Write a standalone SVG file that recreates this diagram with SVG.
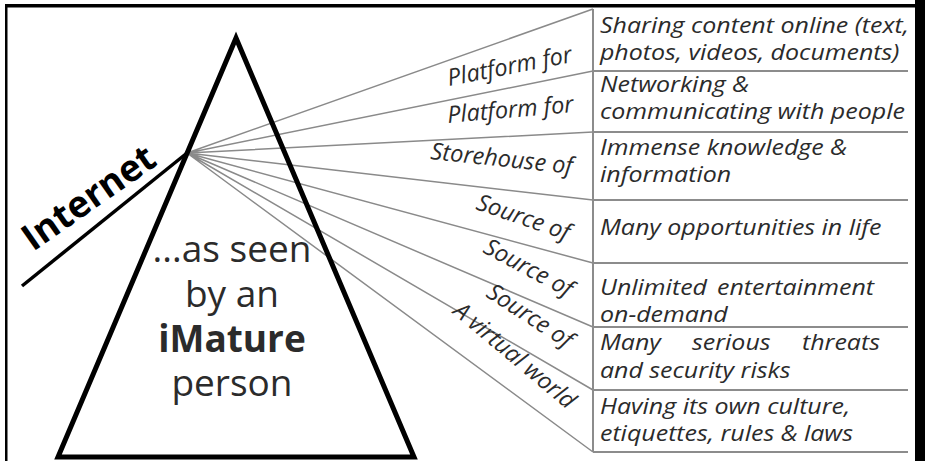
<svg xmlns="http://www.w3.org/2000/svg" width="925" height="461" viewBox="0 0 925 461">
<style>
.frame{fill:#000}
.fan{stroke:#8a8a8a;stroke-width:1.5;fill:none}
.box{stroke:#8c8c8c;stroke-width:2;fill:none}
.lbl{font-family:"Open Sans","DejaVu Sans",sans-serif;font-style:italic;font-size:23.5px;fill:#2b2b2b}
.txt{font-family:"Open Sans","DejaVu Sans",sans-serif;font-style:italic;font-size:22px;fill:#2b2b2b}
.main{font-family:"Open Sans","DejaVu Sans",sans-serif;font-size:37px;fill:#2b2b2b;text-anchor:middle}
</style>
<rect width="925" height="461" fill="#fff"/>
<g id="frame">
<rect class="frame" x="5" y="4" width="920" height="3.5"/>
<rect class="frame" x="5" y="4" width="2.5" height="457"/>
<rect class="frame" x="915" y="0" width="10" height="461"/>
</g>
<g id="connectors">
<path class="fan" d="M187,153 L593,9 M187,153 L593,71 M187,153 L593,132 M187,153 L593,200 M187,153 L593,263 M187,153 L593,327 M187,153 L593,390 M187,153 L593,452"/>
</g>
<g id="triangle">
<path d="M236,38 L58,457 L414,457 Z" fill="none" stroke="#000" stroke-width="5" stroke-linejoin="miter"/>
<text class="main" x="232" y="262">...as seen</text>
<text class="main" x="232" y="307">by an</text>
<text class="main" x="232" y="352" font-weight="bold">iMature</text>
<text class="main" x="232" y="396">person</text>
</g>
<g id="internet">
<line x1="187" y1="153" x2="22" y2="286" stroke="#000" stroke-width="3.5"/>
<text x="0" y="0" transform="translate(33,252) rotate(-35)" font-family="'Open Sans','DejaVu Sans',sans-serif" font-weight="bold" font-size="37" fill="#000">Internet</text>
</g>
<g id="labels">
<text class="lbl" transform="translate(449,86) rotate(-11)">Platform for</text>
<text class="lbl" transform="translate(448,123) rotate(-5)">Platform for</text>
<text class="lbl" transform="translate(430,159) rotate(6)">Storehouse of</text>
<text class="lbl" transform="translate(475,209) rotate(19)">Source of</text>
<text class="lbl" transform="translate(482,252) rotate(28)">Source of</text>
<text class="lbl" transform="translate(485,296) rotate(33)">Source of</text>
<text class="lbl" transform="translate(452,313) rotate(40)">A virtual world</text>
</g>
<g id="boxes">
<path class="box" d="M593,9 V452 M593,71 H908 M593,132 H908 M593,200 H908 M593,263 H908 M593,327 H908 M593,390 H908 M593,452 H908"/>
</g>
<g transform="scale(1.135,1)">
<g id="box1"><text class="txt" x="528.6" y="33">Sharing content online (text,</text><text class="txt" x="528.6" y="60">photos, videos, documents)</text></g>
<g id="box2"><text class="txt" x="528.6" y="92">Networking &amp;</text><text class="txt" x="528.6" y="119">communicating with people</text></g>
<g id="box3"><text class="txt" x="528.6" y="155">Immense knowledge &amp;</text><text class="txt" x="528.6" y="182">information</text></g>
<g id="box4"><text class="txt" x="528.6" y="235">Many opportunities in life</text></g>
<g id="box5"><text class="txt" x="528.6" y="295">Unlimited<tspan x="631.7">entertainment</tspan></text><text class="txt" x="528.6" y="322">on-demand</text></g>
<g id="box6"><text class="txt" x="528.6" y="350">Many<tspan x="609.7">serious</tspan><tspan x="706.6">threats</tspan></text><text class="txt" x="528.6" y="378">and security risks</text></g>
<g id="box7"><text class="txt" x="528.6" y="414">Having its own culture,</text><text class="txt" x="528.6" y="441">etiquettes, rules &amp; laws</text></g>
</g>
</svg>
